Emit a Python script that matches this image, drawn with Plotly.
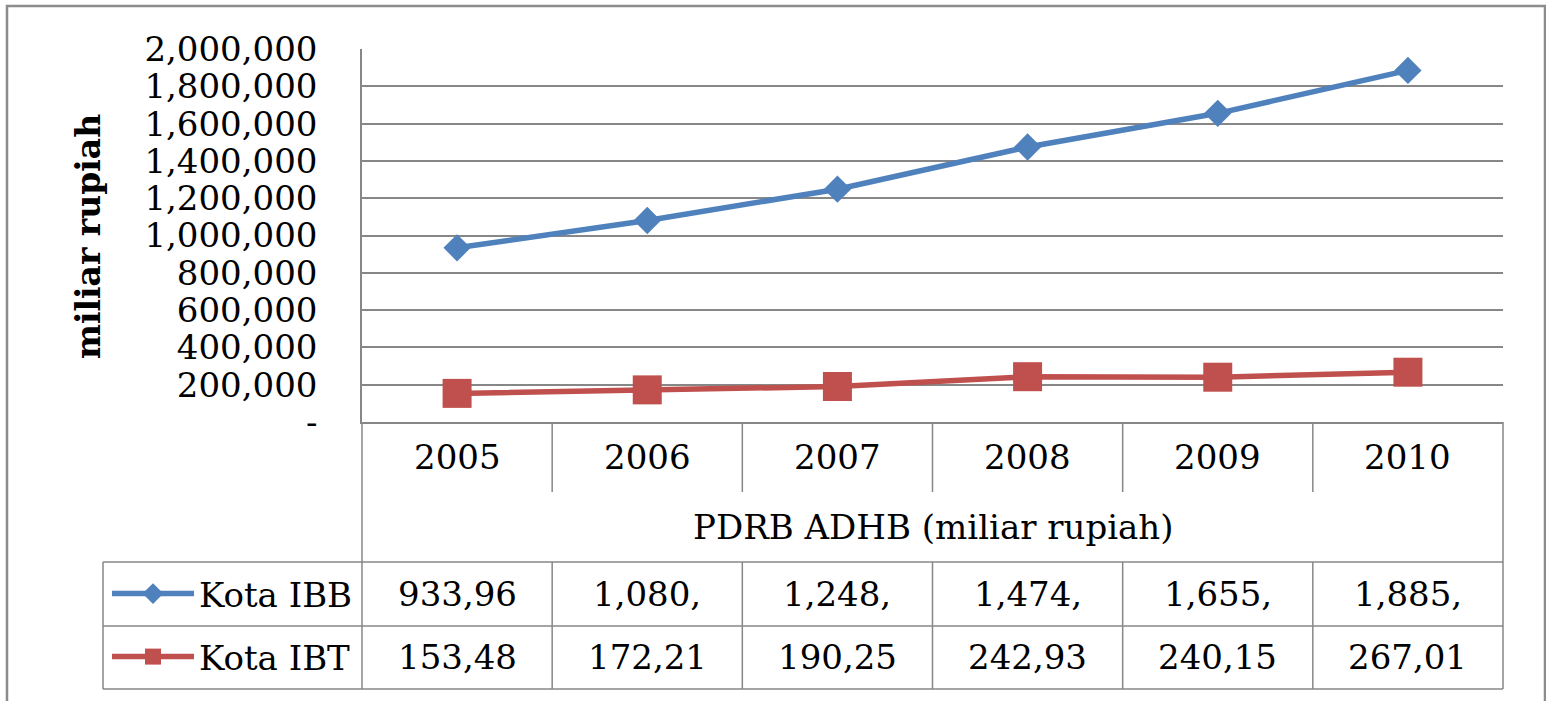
import plotly.graph_objects as go

# ---------------- data ----------------
years = ["2005", "2006", "2007", "2008", "2009", "2010"]
ibb_values = [933960, 1080500, 1248300, 1474500, 1655200, 1885300]
ibt_values = [153480, 172210, 190250, 242930, 240150, 267010]
ibb_table = ["933,96", "1,080,", "1,248,", "1,474,", "1,655,", "1,885,"]
ibt_table = ["153,48", "172,21", "190,25", "242,93", "240,15", "267,01"]
series_names = ["Kota IBB", "Kota IBT"]
y_tickvals = [0, 200000, 400000, 600000, 800000, 1000000, 1200000,
              1400000, 1600000, 1800000, 2000000]
y_ticktext = ["-", "200,000", "400,000", "600,000", "800,000", "1,000,000",
              "1,200,000", "1,400,000", "1,600,000", "1,800,000", "2,000,000"]
y_title = "miliar rupiah"
table_title = "PDRB ADHB (miliar rupiah)"

# ---------------- layout geometry ----------------
W, H = 1546, 701
L, R, T, B = 362, 1503, 49, 422
FONT = "DejaVu Serif"
FS = 34
GRID = "#878787"
BLUE = "#4F81BD"
RED = "#C0504D"


def px(x):
    return (x - L) / (R - L)


def py(y):
    return (B - y) / (B - T)


fig = go.Figure()
fig.add_trace(go.Scatter(
    x=years, y=ibb_values, name=series_names[0], mode="lines+markers",
    line=dict(color=BLUE, width=5.5),
    marker=dict(symbol="diamond", size=21, color=BLUE),
    legend="legend", cliponaxis=False))
fig.add_trace(go.Scatter(
    x=years, y=ibt_values, name=series_names[1], mode="lines+markers",
    line=dict(color=RED, width=5.5),
    marker=dict(symbol="square", size=29, color=RED),
    legend="legend2", cliponaxis=False))

shapes = []
line_style = dict(color=GRID, width=1.5)
# outer chart border
shapes.append(dict(type="rect", xref="paper", yref="paper",
                   x0=px(7), x1=px(1545), y0=py(704), y1=py(6),
                   line=dict(color="#8c8c8c", width=2.5), layer="below"))
# table outer verticals
for xv in (0, 1):
    shapes.append(dict(type="line", xref="paper", yref="paper",
                       x0=xv, x1=xv, y0=py(B), y1=py(689), line=line_style))
# year column dividers (header and value rows)
for i in range(1, len(years)):
    shapes.append(dict(type="line", xref="x", yref="paper",
                       x0=i - 0.5, x1=i - 0.5, y0=py(B), y1=py(492),
                       line=line_style))
    shapes.append(dict(type="line", xref="x", yref="paper",
                       x0=i - 0.5, x1=i - 0.5, y0=py(562), y1=py(689),
                       line=line_style))
# horizontal rows of the data table
for yy in (562, 626, 689):
    shapes.append(dict(type="line", xref="paper", yref="paper",
                       x0=px(103), x1=1, y0=py(yy), y1=py(yy), line=line_style))
shapes.append(dict(type="line", xref="paper", yref="paper",
                   x0=px(103), x1=px(103), y0=py(562), y1=py(689),
                   line=line_style))

annotations = []
cell_font = dict(family=FONT, size=FS, color="black")
for i, yr in enumerate(years):
    annotations.append(dict(x=i, y=py(457), xref="x", yref="paper",
                            xanchor="center", yanchor="middle",
                            text=yr, showarrow=False, font=cell_font))
    annotations.append(dict(x=i, y=py(594), xref="x", yref="paper",
                            xanchor="center", yanchor="middle",
                            text=ibb_table[i], showarrow=False, font=cell_font))
    annotations.append(dict(x=i, y=py(657), xref="x", yref="paper",
                            xanchor="center", yanchor="middle",
                            text=ibt_table[i], showarrow=False, font=cell_font))
annotations.append(dict(x=0.5, y=py(527), xref="paper", yref="paper",
                        xanchor="center", yanchor="middle",
                        text=table_title, showarrow=False, font=cell_font))
annotations.append(dict(x=px(88), y=py(237), xref="paper", yref="paper",
                        xanchor="center", yanchor="middle",
                        text="<b>" + y_title + "</b>", textangle=-90,
                        showarrow=False,
                        font=dict(family=FONT, size=33, color="black")))

legend_common = dict(xref="paper", yref="paper", xanchor="left",
                     yanchor="middle", bgcolor="rgba(0,0,0,0)",
                     borderwidth=0, itemwidth=82,
                     font=dict(family=FONT, size=FS, color="black"))

fig.update_layout(
    width=W, height=H,
    margin=dict(l=L, r=W - R, t=T, b=H - B),
    paper_bgcolor="white", plot_bgcolor="white",
    showlegend=True,
    legend=dict(x=px(107), y=py(594), **legend_common),
    legend2=dict(x=px(107), y=py(657), **legend_common),
    xaxis=dict(type="category", range=[-0.5, len(years) - 0.5],
               showticklabels=False, showgrid=False, zeroline=False,
               showline=True, linecolor=GRID, linewidth=1.5, ticks=""),
    yaxis=dict(range=[0, 2000000], tickvals=y_tickvals, ticktext=y_ticktext,
               showgrid=True, gridcolor=GRID, gridwidth=1.5,
               zeroline=False, showline=True, linecolor=GRID, linewidth=1.5,
               ticks="", ticklabelstandoff=36,
               tickfont=dict(family=FONT, size=FS, color="black")),
    shapes=shapes,
    annotations=annotations,
)

fig.write_html("out.html",
               config={"displayModeBar": False},
               post_script="document.body.style.margin='0px';"
                           "document.body.style.overflow='hidden';")
